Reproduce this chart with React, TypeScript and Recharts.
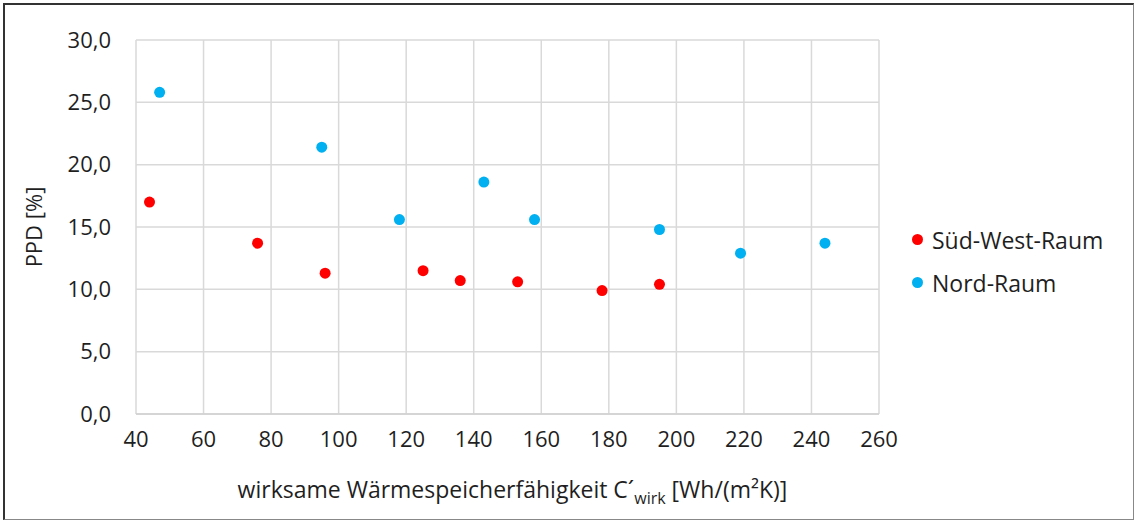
import React from 'react';
import { ScatterChart, Scatter, XAxis, YAxis, CartesianGrid } from 'recharts';

// Süd-West-Raum
const swX = [44, 76, 96, 125, 136, 153, 178, 195];
const swPPD = [17.0, 13.7, 11.3, 11.5, 10.7, 10.6, 9.9, 10.4];

// Nord-Raum
const nordX = [47, 95, 118, 143, 158, 195, 219, 244];
const nordPPD = [25.8, 21.4, 15.6, 18.6, 15.6, 14.8, 12.9, 13.7];

const xTicks = [40, 60, 80, 100, 120, 140, 160, 180, 200, 220, 240, 260];
const yTicks = [0, 5, 10, 15, 20, 25, 30];

const seriesNames = ['Süd-West-Raum', 'Nord-Raum'];
const seriesColors = ['#FF0000', '#00B0F0'];

const swData = swX.map((x, i) => ({ x, y: swPPD[i] }));
const nordData = nordX.map((x, i) => ({ x, y: nordPPD[i] }));

const FONT = '"Open Sans", sans-serif';
const TEXT = '#1f1f1f';

const dot = (color: string) => (props: any) => (
  <circle cx={props.cx} cy={props.cy} r={5.5} fill={color} />
);

const LegendBox = () => (
  <div style={{ position: 'absolute', left: 912, top: 218, fontFamily: FONT, fontSize: 23, color: TEXT }}>
    {seriesNames.map((name, i) => (
      <div key={name} style={{ display: 'flex', alignItems: 'center', height: 43 }}>
        <span
          style={{
            display: 'inline-block',
            width: 11,
            height: 11,
            borderRadius: '50%',
            background: seriesColors[i],
            marginRight: 9,
          }}
        />
        {name}
      </div>
    ))}
  </div>
);

export default function App() {
  return (
    <div style={{ position: 'absolute', left: 0, top: 0, width: 1136, height: 522, background: '#fff' }}>
      <div
        style={{
          position: 'absolute',
          left: 3,
          top: 3,
          width: 1128,
          height: 514,
          borderLeft: '2px solid #333',
          borderTop: '2px solid #333',
          borderRight: '1px solid #888',
          borderBottom: '1px solid #888',
        }}
      />
      <ScatterChart
        width={1136}
        height={522}
        margin={{ top: 40, right: 257, bottom: 48, left: 56 }}
        style={{ position: 'absolute', left: 0, top: 0 }}
      >
        <CartesianGrid stroke="#D9D9D9" strokeWidth={1.5} />
        <XAxis
          type="number"
          dataKey="x"
          domain={[40, 260]}
          ticks={xTicks}
          interval={0}
          height={60}
          tickLine={false}
          axisLine={{ stroke: '#D0D0D0', strokeWidth: 1.5 }}
          tick={{ fill: TEXT, fontSize: 22, fontFamily: FONT }}
          tickMargin={11}
          label={{
            position: 'insideBottom',
            content: (p: any) => {
              const vb = p.viewBox;
              return (
                <text
                  x={vb.x + vb.width / 2 + 5}
                  y={vb.y + vb.height + 24}
                  textAnchor="middle"
                  fill={TEXT}
                  fontFamily={FONT}
                  fontSize={23}
                >
                  wirksame Wärmespeicherfähigkeit  C´
                  <tspan fontSize={16} dy={6}>wirk</tspan>
                  <tspan dy={-6}> [Wh/(m²K)]</tspan>
                </text>
              );
            },
          }}
        />
        <YAxis
          type="number"
          dataKey="y"
          domain={[0, 30]}
          ticks={yTicks}
          interval={0}
          width={80}
          tickLine={false}
          axisLine={false}
          tick={{ fill: TEXT, fontSize: 22, fontFamily: FONT }}
          tickMargin={19}
          tickFormatter={(v: number) => v.toFixed(1).replace('.', ',')}
          label={{
            position: 'insideLeft',
            content: (p: any) => {
              const vb = p.viewBox;
              const cx = vb.x - 23;
              const cy = vb.y + vb.height / 2;
              return (
                <text
                  x={cx}
                  y={cy}
                  transform={`rotate(-90, ${cx}, ${cy})`}
                  textAnchor="middle"
                  dominantBaseline="central"
                  fill={TEXT}
                  fontFamily={FONT}
                  fontSize={22}
                >
                  PPD [%]
                </text>
              );
            },
          }}
        />
        <Scatter
          name={seriesNames[0]}
          data={swData}
          fill={seriesColors[0]}
          shape={dot(seriesColors[0])}
          isAnimationActive={false}
        />
        <Scatter
          name={seriesNames[1]}
          data={nordData}
          fill={seriesColors[1]}
          shape={dot(seriesColors[1])}
          isAnimationActive={false}
        />
      </ScatterChart>
      <LegendBox />
    </div>
  );
}
